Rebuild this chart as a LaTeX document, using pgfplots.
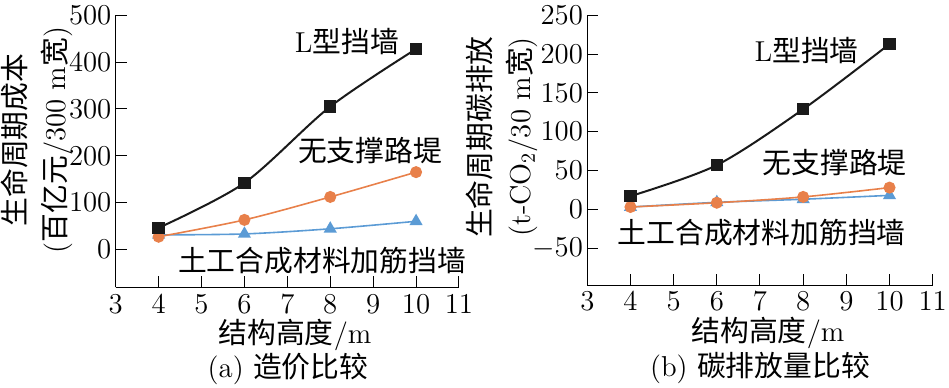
\documentclass[border=0pt]{standalone}
\usepackage{pgfplots}
\pgfplotsset{compat=1.18}
\usepackage{fontspec}
\newfontfamily\cjk{Noto Sans CJK SC}
\definecolor{lblack}{HTML}{1A1A1A}
\definecolor{lorange}{HTML}{E8804A}
\definecolor{lblue}{HTML}{5B9BD5}
\newcommand{\fs}{\fontsize{14.4}{17}\selectfont}
\pgfplotsset{
  base/.style={
    anchor=south west, scale only axis, clip=false,
    xmin=3, xmax=11, xtick={3,...,11},
    axis x line*=bottom, axis y line*=left,
    tick align=inside, major tick length=5.5pt,
    tick style={black, line width=0.5pt},
    axis line style={black, line width=0.5pt},
    ticklabel style={font=\fontsize{15}{15}\selectfont, inner sep=1pt},
    xticklabel style={yshift=-2.5pt},
    yticklabel style={xshift=-1pt},
  },
  sblack/.style={lblack, line width=1pt, smooth, mark=square*, mark size=2.6pt, mark options={solid, fill=lblack}},
  sorange/.style={lorange, line width=0.8pt, smooth, mark=*, mark size=2.6pt, mark options={solid, fill=lorange}},
  sblue/.style={lblue, line width=0.8pt, smooth, mark=triangle*, mark size=3pt, mark options={solid, fill=lblue}},
}
\begin{document}
\begin{tikzpicture}
\path[use as bounding box] (0,0) rectangle (474.5pt,193.5pt);
% left panel
\begin{axis}[base, at={(57.85pt,49.85pt)}, width=171.65pt, height=136pt,
  ymin=-81, ymax=500, ytick={0,100,...,500}]
\addplot[sblue] coordinates {(4,31) (6,33) (8,44) (10,60)};
\addplot[sorange] coordinates {(4,27) (6,63) (8,112) (10,165)};
\addplot[sblack] coordinates {(4,46) (6,142) (8,305) (10,428)};
\node[font=\fs] at (axis cs:8.39,443) {L{\cjk 型挡墙}};
\node[font=\fs] at (axis cs:8.93,212) {{\cjk 无支撑路堤}};
\node[font=\fs] at (axis cs:7.81,-23) {{\cjk 土工合成材料加筋挡墙}};
\end{axis}
% right panel
\begin{axis}[base, at={(293.65pt,51pt)}, width=172.7pt, height=134.85pt,
  ymin=-97.5, ymax=250, ytick={-50,0,50,...,250}]
\addplot[sblue] coordinates {(4,3) (6,9) (8,13) (10,18)};
\addplot[sorange] coordinates {(4,3) (6,8.5) (8,16) (10,28)};
\addplot[sblack] coordinates {(4,17) (6,57) (8,129) (10,213)};
\node[font=\fs] at (axis cs:8.08,205) {L{\cjk 型挡墙}};
\node[font=\fs] at (axis cs:8.73,60) {{\cjk 无支撑路堤}};
\node[font=\fs] at (axis cs:7.04,-30.5) {{\cjk 土工合成材料加筋挡墙}};
\end{axis}
% outer labels
\node[font=\fs, rotate=90, align=center, inner sep=0pt] at (18.5pt,123.5pt)
  {{\cjk 生命周期成本}\\[3pt]({\cjk 百亿元}/300 m{\cjk 宽})};
\node[font=\fs, rotate=90, align=center, inner sep=0pt] at (251pt,125pt)
  {{\cjk 生命周期碳排放}\\[3pt](t-CO$_2$/30 m{\cjk 宽})};
\node[font=\fs, inner sep=0pt] at (147.5pt,26pt) {{\cjk 结构高度}/m};
\node[font=\fs, inner sep=0pt] at (144pt,9pt) {(a) {\cjk 造价比较}};
\node[font=\fs, inner sep=0pt] at (384pt,27pt) {{\cjk 结构高度}/m};
\node[font=\fs, inner sep=0pt] at (380pt,9.5pt) {(b) {\cjk 碳排放量比较}};
\end{tikzpicture}
\end{document}
